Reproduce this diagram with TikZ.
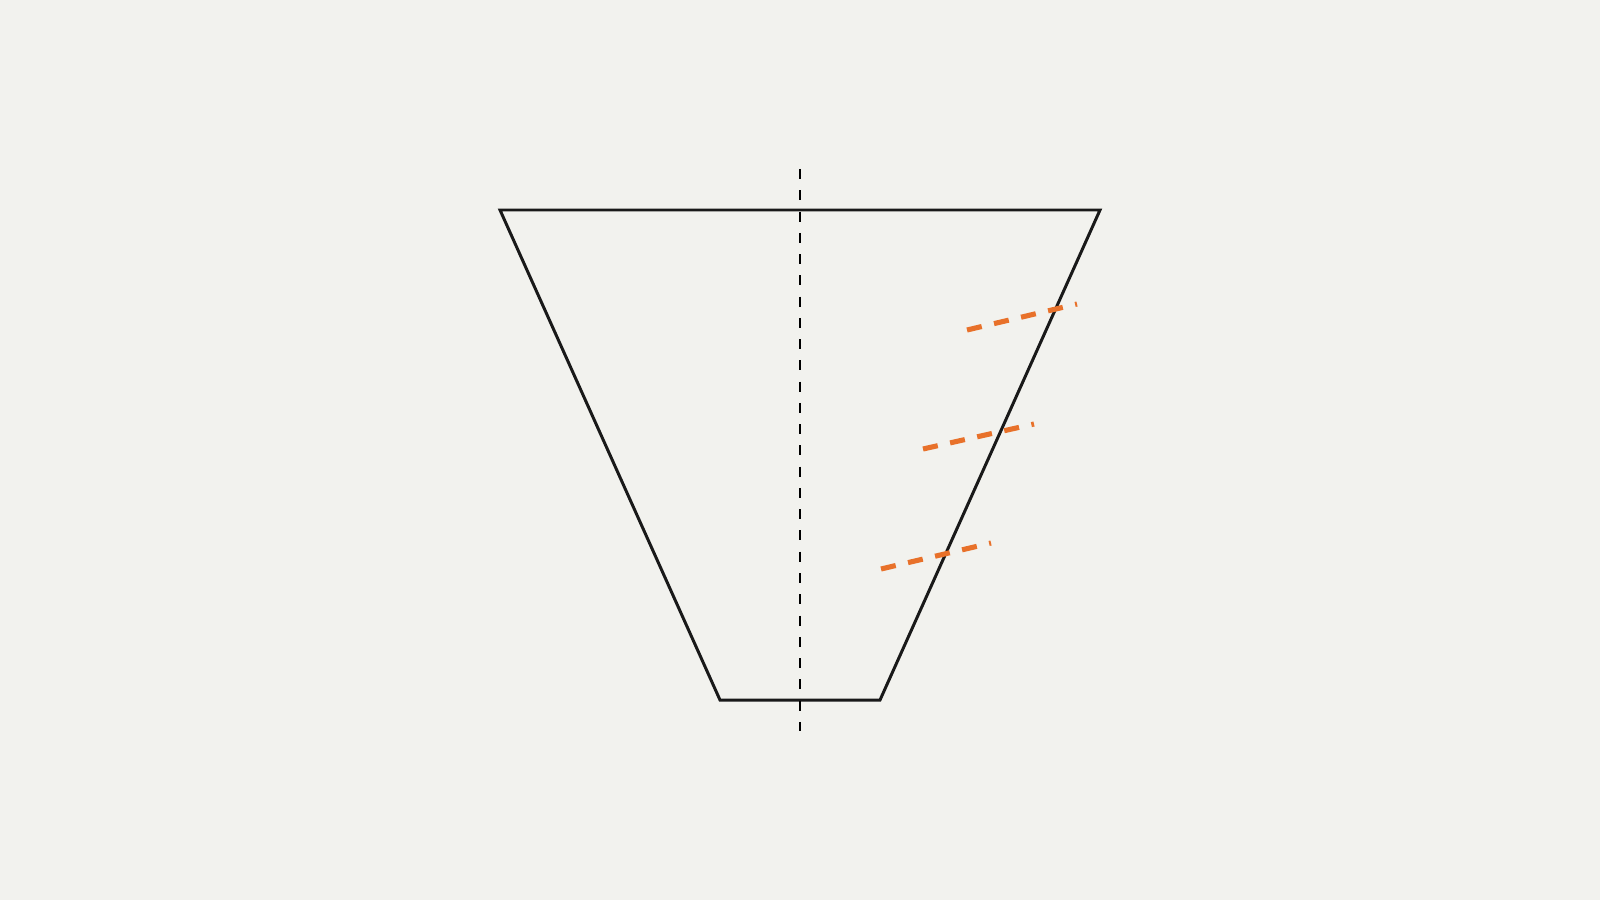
\documentclass[tikz,border=0pt]{standalone}
\usetikzlibrary{positioning}

\definecolor{paper}{HTML}{F2F2EE}
\definecolor{cutorange}{HTML}{E8712A}

\begin{document}
\begin{tikzpicture}[line join=miter]
    \tikzset{outline/.style={line width=0.85pt, black!90},
             axisline/.style={line width=0.55pt, black, dash pattern=on 2.85pt off 3.2pt},
             cutline/.style={line width=1.45pt, cutorange, dash pattern=on 4.3pt off 3.6pt}}
    \fill [paper] (0,0) rectangle (16,9);
    \useasboundingbox (0,0) rectangle (16,9);
    % frustum corners
    \coordinate (tl) at (5.00,6.90);
    \coordinate (tr) at (11.00,6.90);
    \coordinate (br) at (8.80,2.00);
    \coordinate (bl) at (7.20,2.00);
    \draw [outline] (tl) -- (tr) -- (br) -- (bl) -- cycle;
    % axis
    \coordinate (atop) at (8.00,7.31);
    \coordinate (abot) at (8.00,1.69);
    \draw [axisline] (atop) -- (abot);
    % orange dashed cuts
    \coordinate (c1a) at (9.67,5.70);
    \coordinate (c1b) at (10.77,5.96);
    \coordinate (c2a) at (9.23,4.51);
    \coordinate (c2b) at (10.34,4.76);
    \coordinate (c3a) at (8.81,3.31);
    \coordinate (c3b) at (9.91,3.57);
    \draw [cutline] (c1a) -- (c1b);
    \draw [cutline] (c2a) -- (c2b);
    \draw [cutline] (c3a) -- (c3b);
\end{tikzpicture}
\end{document}
